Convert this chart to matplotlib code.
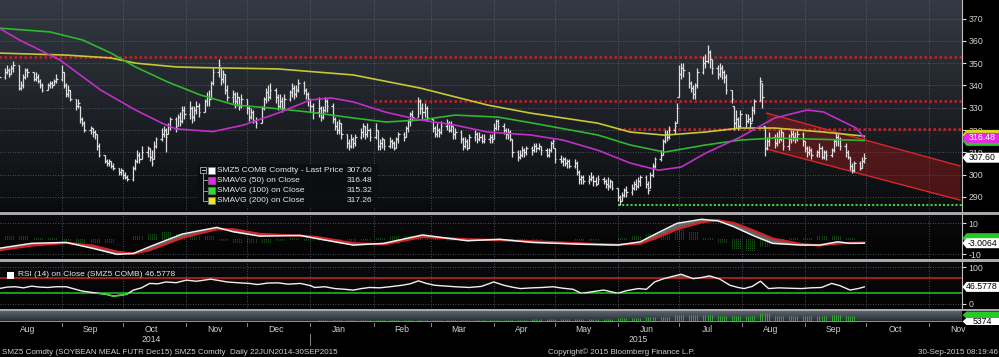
import numpy as np
import pandas as pd
import matplotlib
matplotlib.use("Agg")
import matplotlib.pyplot as plt
import matplotlib.dates as mdates
from matplotlib.patches import Rectangle, Polygon
from matplotlib.colors import LinearSegmentedColormap

plt.rcParams['font.family'] = ['Liberation Sans', 'DejaVu Sans']
plt.rcParams['axes.unicode_minus'] = False

# Daily bars, SMZ5, one value per business day from 1 Aug 2014 to 30 Sep 2015.
close = [
    # Aug 2014
    344, 346, 347, 345, 348, 349, 339, 340, 344, 347, 346, 343, 344, 342, 340, 338, 340, 341, 340, 342, 343,
    # Sep
    346, 340, 336, 338, 334, 331, 332, 325, 323, 320, 321, 319, 318, 313, 309, 306, 305, 306, 304, 303, 301, 302,
    # Oct
    300, 299, 298, 303, 306, 309, 307, 310, 312, 308, 305, 313, 316, 318, 320, 317, 322, 325, 321, 326, 324, 329, 327,
    # Nov
    330, 326, 329, 331, 328, 333, 335, 334, 341, 346, 349, 343, 345, 338, 335, 336, 333, 335, 331, 334,
    # Dec
    330, 326, 328, 324, 323, 330, 334, 337, 335, 338, 335, 331, 333, 330, 334, 337, 339, 336, 338, 341, 338, 336, 334,
    # Jan 2015
    331, 328, 330, 326, 329, 333, 331, 325, 322, 320, 323, 318, 314, 313, 316, 314, 317, 319, 322, 318, 320, 317,
    # Feb
    320, 313, 314, 316, 313, 315, 314, 312, 316, 318, 317, 321, 324, 327, 326, 333, 330, 328, 330, 326,
    # Mar
    321, 318, 320, 319, 322, 323, 320, 322, 318, 319, 316, 313, 315, 312, 317, 318, 316, 317, 315, 316, 317, 315,
    # Apr
    321, 324, 322, 320, 318, 319, 316, 310, 308, 309, 311, 310, 312, 311, 313, 312, 313, 311, 309, 311, 314, 315,
    # May
    307, 306, 307, 305, 306, 304, 305, 301, 298, 299, 297, 298, 299, 297, 296, 298, 297, 296, 295, 297, 294,
    # Jun
    290, 288, 291, 293, 292, 294, 296, 295, 297, 299, 296, 293, 300, 304, 307, 309, 315, 318, 317, 320, 322, 330,
    # Jul
    345, 348, 347, 341, 339, 336, 340, 346, 350, 351, 355, 352, 348, 345, 348, 346, 344, 338, 334, 323, 325, 322, 327,
    # Aug
    324, 325, 323, 329, 333, 342, 335, 312, 315, 317, 314, 317, 316, 319, 313, 316, 318, 317, 316, 318, 315,
    # Sep
    312, 310, 311, 309, 310, 312, 308, 310, 309, 311, 315, 317, 316, 313, 310, 308, 304, 302, 305, 303, 306, 307.6,
]
high = [
    346, 348, 349, 348, 349, 351, 349, 342, 345, 348, 348, 346, 346, 345, 343, 341, 341, 342, 342, 343, 345,
    349, 346, 341, 340, 338, 334, 334, 331, 326, 324, 322, 321, 320, 318, 314, 309, 307, 307, 306, 305, 303, 303,
    302, 301, 300, 304, 307, 311, 310, 313, 313, 312, 311, 315, 317, 321, 322, 321, 323, 326, 326, 327, 328, 331, 331,
    333, 331, 331, 333, 332, 334, 337, 338, 342, 348, 352, 348, 347, 345, 340, 338, 337, 337, 335, 336,
    334, 331, 330, 329, 326, 331, 335, 339, 340, 341, 339, 336, 336, 335, 336, 338, 341, 340, 340, 343, 342, 339, 337,
    334, 332, 335, 331, 331, 335, 334, 332, 326, 324, 325, 323, 318, 316, 318, 317, 318, 321, 323, 322, 323, 321,
    323, 320, 316, 317, 316, 317, 316, 315, 317, 319, 319, 322, 325, 328, 329, 335, 334, 332, 332, 331,
    325, 322, 323, 321, 324, 325, 324, 324, 322, 321, 320, 317, 317, 316, 318, 320, 319, 319, 318, 318, 318, 318,
    323, 325, 325, 323, 321, 321, 320, 316, 311, 311, 313, 312, 313, 313, 314, 314, 314, 313, 312, 312, 315, 316,
    312, 309, 308, 308, 307, 307, 307, 306, 302, 300, 300, 300, 301, 300, 299, 300, 299, 298, 299, 298, 297,
    294, 291, 292, 294, 295, 296, 297, 298, 299, 300, 300, 297, 301, 305, 308, 311, 316, 320, 320, 322, 324, 332,
    349, 350, 350, 346, 342, 340, 341, 348, 353, 354, 358, 356, 352, 349, 350, 349, 347, 345, 338, 331, 329, 326, 329,
    327, 327, 326, 331, 334, 344, 341, 322, 317, 319, 318, 319, 320, 321, 319, 318, 320, 320, 319, 320, 319,
    315, 313, 313, 312, 311, 314, 313, 311, 311, 312, 316, 318.5, 318, 317, 314, 311, 308, 305, 306, 306, 308, 309.5,
]
low = [
    342, 343, 345, 344, 345, 346, 338, 338, 339, 343, 344, 342, 342, 341, 339, 337, 338, 339, 339, 340, 341,
    342, 339, 335, 335, 333, 329, 330, 323, 322, 319, 318, 317, 316, 311, 308, 305, 304, 304, 303, 302, 300, 300,
    298, 298, 297, 297, 302, 305, 305, 307, 308, 306, 304, 307, 312, 315, 317, 310, 318, 320, 319, 322, 322, 323, 325,
    325, 323, 324, 327, 326, 328, 331, 331, 334, 340, 344, 340, 341, 336, 333, 332, 330, 331, 329, 330,
    327, 324, 325, 323, 321, 323, 329, 332, 333, 334, 332, 329, 330, 328, 330, 333, 335, 334, 335, 337, 336, 334, 331,
    328, 325, 326, 324, 325, 328, 328, 323, 320, 318, 318, 316, 312, 311, 312, 312, 313, 316, 317, 316, 317, 315,
    316, 311, 311, 312, 311, 312, 312, 311, 312, 314, 315, 317, 319, 322, 324, 326, 327, 325, 326, 324,
    319, 317, 317, 317, 318, 320, 319, 319, 316, 316, 314, 311, 312, 311, 312, 315, 314, 315, 314, 314, 314, 314,
    316, 320, 320, 318, 316, 316, 315, 308, 306, 307, 308, 308, 309, 309, 310, 310, 311, 309, 308, 308, 310, 312,
    305, 305, 304, 304, 303, 303, 303, 300, 296, 296, 296, 296, 297, 295, 295, 296, 296, 294, 293, 294, 293,
    288, 286.5, 288, 290, 290, 291, 293, 293, 294, 295, 294, 291.5, 294, 299, 303, 306, 309, 314, 315, 316, 318, 323,
    335, 343, 344, 339, 337, 334, 334, 339, 345, 348, 350, 348, 345, 343, 344, 343, 341, 336, 332, 320, 321, 320, 321,
    321, 323, 321, 324, 327, 333, 330, 308.5, 311, 313, 312, 313, 314, 315, 311, 311, 314, 315, 314, 315, 313,
    310, 308, 309, 307, 308, 308, 307, 307, 306.5, 308, 310, 313, 313, 311, 308, 307, 302, 300.6, 301, 302, 303, 305,
]

# Moving averages
sma50_dates = ['2014-08-01', '2014-08-11', '2014-08-31', '2014-09-20', '2014-10-07', '2014-10-20', '2014-10-27',
               '2014-11-14', '2014-11-29', '2014-12-16', '2015-01-01', '2015-01-11', '2015-01-22', '2015-02-07',
               '2015-02-24', '2015-03-13', '2015-03-29', '2015-04-19', '2015-05-05', '2015-05-22', '2015-06-07',
               '2015-06-21', '2015-07-02', '2015-07-14', '2015-07-31', '2015-08-17', '2015-09-02', '2015-09-10',
               '2015-09-18', '2015-09-26', '2015-09-30']
sma50 = [365.7, 360.4, 351.4, 337.9, 329.0, 323.1, 320.5, 319.3, 322.2, 327.6, 333.5, 334.4, 332.6, 328.0,
         324.5, 322.2, 319.1, 317.8, 315.5, 311.0, 305.2, 302.0, 303.4, 309.6, 316.8, 325.4, 329.0, 328.1,
         324.5, 320.9, 316.48]
sma100_dates = ['2014-08-01', '2014-08-26', '2014-09-11', '2014-09-25', '2014-10-07', '2014-10-23', '2014-11-08',
                '2014-11-25', '2014-12-12', '2015-01-01', '2015-01-22', '2015-02-07', '2015-02-24', '2015-03-13',
                '2015-04-03', '2015-04-19', '2015-05-22', '2015-06-07', '2015-06-24', '2015-07-14', '2015-07-31',
                '2015-08-17', '2015-09-30']
sma100 = [365.7, 364.0, 360.4, 354.5, 348.3, 341.5, 335.7, 331.2, 329.9, 328.0, 325.4, 323.6, 324.5, 326.7,
          325.8, 323.3, 317.8, 313.3, 310.1, 313.3, 315.5, 316.4, 315.32]
sma200_dates = ['2014-08-01', '2014-09-03', '2014-09-25', '2014-10-07', '2014-10-27', '2014-11-08', '2014-12-16',
                '2015-01-22', '2015-02-24', '2015-03-29', '2015-04-19', '2015-05-22', '2015-06-07', '2015-06-24',
                '2015-07-14', '2015-07-31', '2015-08-17', '2015-09-10', '2015-09-30']
sma200 = [354.5, 353.6, 352.3, 350.0, 348.3, 348.0, 347.4, 344.7, 338.8, 331.2, 327.6, 323.1, 319.1, 317.7,
          319.1, 320.9, 320.9, 319.1, 317.26]

# Drawn levels and channel
res_levels = [352.7, 333.1, 320.5]
res_starts = ['2014-08-01', '2015-02-01', '2015-06-01']
sup_level = 286.4
sup_start = '2015-06-01'
channel_dates = ['2015-08-13', '2015-11-16']
channel_top = [327.6, 303.9]
channel_bot = [311.5, 288.6]

# MACD panel
macd_dates = ['2014-08-01', '2014-08-17', '2014-09-03', '2014-09-16', '2014-09-28', '2014-10-06', '2014-10-14',
              '2014-10-30', '2014-11-16', '2014-11-24', '2014-12-07', '2014-12-27', '2015-01-04', '2015-01-22',
              '2015-02-06', '2015-02-25', '2015-03-19', '2015-04-04', '2015-04-20', '2015-05-15', '2015-06-01',
              '2015-06-12', '2015-06-20', '2015-06-30', '2015-07-12', '2015-07-20', '2015-07-28', '2015-08-07',
              '2015-08-16', '2015-08-30', '2015-09-08', '2015-09-17', '2015-09-23', '2015-09-30']
macd_line = [-6.3, -3.1, -2.5, -6.3, -10.2, -9.6, -5.3, 2.9, 7.2, 4.4, 1.6, 2.0, 0.0, -4.2, -3.1, 2.3, -1.4,
             -0.5, -2.5, -3.7, -4.2, -2.1, 3.3, 9.8, 12.4, 11.5, 7.6, 1.6, -3.1, -4.2, -4.2, -2.1, -3.1, -3.0064]
macd_signal = [-7.5, -4.5, -2.8, -4.5, -8.5, -9.8, -7.5, 0.5, 6.0, 6.0, 3.0, 1.8, 1.0, -3.0, -3.8, 1.0, -0.5,
               -1.0, -1.8, -3.2, -4.0, -3.2, 0.5, 6.0, 10.5, 11.8, 10.0, 5.0, 0.0, -3.5, -4.5, -3.2, -2.8, -2.6]
# weekly histogram and volume, weeks ending on Fridays from 1 Aug 2014
macd_hist = [1.5, 2, 2, 1, 0.5, -1, -2, -2.5, -2, -0.5, 2, 3.5, 4, 3.5, 2, 1.5, -1, -2.5, -3, -2, -1, 0.5,
             -1, -1.5, -3, -2.5, -1, 0.5, 1.5, 2.5, 2, 0.5, -1, -1.5, -0.5, 0.5, -1, -1.5, -1, 0, -0.5, -1.5,
             -1, -0.5, 0.5, 1.5, 3.5, 5, 6, 4, 1, -3, -6, -7.5, -5, -2, 0.5, 1, 1.5, 2, 0.5]
volume = [150, 200, 180, 220, 200, 250, 300, 280, 300, 350, 320, 400, 380, 420, 400, 450, 420, 380, 450, 500,
          480, 350, 450, 600, 700, 650, 800, 900, 850, 1000, 1100, 1000, 1200, 1300, 1250, 1400, 1500, 1600,
          1800, 2000, 2100, 2300, 2500, 2800, 3200, 3500, 4200, 5000, 7000, 6500, 6800, 6200, 6000, 5800, 9000,
          6200, 5800, 5500, 6000, 6500, 5374]

# RSI panel
rsi_dates = ['2014-08-01', '2014-08-05', '2014-08-09', '2014-08-13', '2014-08-17', '2014-08-21', '2014-08-25',
             '2014-08-29', '2014-09-03', '2014-09-07', '2014-09-11', '2014-09-15', '2014-09-19', '2014-09-23',
             '2014-09-26', '2014-09-30', '2014-10-03', '2014-10-06', '2014-10-10', '2014-10-14', '2014-10-18',
             '2014-10-22', '2014-10-27', '2014-11-01', '2014-11-06', '2014-11-13', '2014-11-17', '2014-11-21',
             '2014-11-26', '2014-12-02', '2014-12-06', '2014-12-11', '2014-12-16', '2014-12-21', '2014-12-27',
             '2015-01-01', '2015-01-03', '2015-01-08', '2015-01-13', '2015-01-18', '2015-01-22', '2015-01-26',
             '2015-01-30', '2015-02-04', '2015-02-09', '2015-02-15', '2015-02-19', '2015-02-23', '2015-02-27',
             '2015-03-03', '2015-03-08', '2015-03-13', '2015-03-20', '2015-03-26', '2015-04-01', '2015-04-06',
             '2015-04-10', '2015-04-14', '2015-04-20', '2015-04-25', '2015-04-30', '2015-05-05', '2015-05-10',
             '2015-05-14', '2015-05-19', '2015-05-25', '2015-06-01', '2015-06-05', '2015-06-11', '2015-06-15',
             '2015-06-19', '2015-06-23', '2015-06-27', '2015-07-02', '2015-07-05', '2015-07-08', '2015-07-12',
             '2015-07-16', '2015-07-21', '2015-07-26', '2015-07-30', '2015-08-02', '2015-08-06', '2015-08-10',
             '2015-08-14', '2015-08-19', '2015-08-24', '2015-08-30', '2015-09-04', '2015-09-09', '2015-09-14',
             '2015-09-18', '2015-09-23', '2015-09-27', '2015-09-30']
rsi = [42, 46, 47, 44, 48.6, 46, 45, 47, 47, 41, 35, 32, 29, 26, 21.6, 24, 27, 37.8, 44, 56, 55, 60, 58,
       65, 62, 67.6, 64, 60, 58, 56, 53, 57, 57.6, 54, 56, 50, 45, 47, 42, 40, 37.8, 42, 45, 44, 47, 51, 55,
       63, 56, 51, 49, 47, 45, 48, 60, 51, 46, 42, 44, 45, 47, 43, 40, 29, 33, 38, 29, 36, 42, 40, 60, 68, 74,
       81, 75, 69, 72, 76.6, 68, 51, 45, 42, 48, 62, 42, 44, 43, 42, 44, 45, 56, 50, 38, 42, 46.58]

main_ticks = [290, 300, 310, 320, 330, 340, 350, 360, 370]
month_labels = ['Aug', 'Sep', 'Oct', 'Nov', 'Dec', 'Jan', 'Feb', 'Mar', 'Apr', 'May', 'Jun', 'Jul',
                'Aug', 'Sep', 'Oct', 'Nov']
year_labels = ['2014', '2015']
year_label_dates = ['2014-10-15', '2015-06-11']

W, H = 999, 357


def num(dates):
    return mdates.date2num(pd.to_datetime(dates).to_pydatetime())


def rect(y0, y1, x0=0, x1=962):
    # pixel box (y from top) -> figure fraction
    return [x0 / W, 1 - y1 / H, (x1 - x0) / W, (y1 - y0) / H]


def fx(x):
    return x / W


def fy(y):
    return 1 - y / H


def shade(ax, top, bottom):
    cmap = LinearSegmentedColormap.from_list('bg', [bottom, top])
    ax.imshow(np.linspace(0, 1, 100).reshape(-1, 1), cmap=cmap, aspect='auto', origin='lower',
              extent=(0, 1, 0, 1), transform=ax.transAxes, zorder=0, interpolation='bilinear')


fig = plt.figure(figsize=(9.99, 3.57), dpi=100, facecolor='black')
ax = fig.add_axes(rect(0, 211))
ax_macd = fig.add_axes(rect(215, 259))
ax_rsi = fig.add_axes(rect(262, 308.5))
ax_vol = fig.add_axes(rect(311, 321))

shade(ax, '#343a43', '#0a0b0e')
shade(ax_macd, '#0b0b0d', '#020203')
shade(ax_rsi, '#0b0b0d', '#020203')
shade(ax_vol, '#5b6570', '#262c33')

x_left = num(['2014-08-01'])[0] + 0.5
x_right = num(['2015-11-17'])[0]
month_starts = num(pd.date_range('2014-08-01', '2015-11-01', freq='MS'))

grid_c = '#5f656d'
for a in (ax, ax_macd, ax_rsi):
    for m in month_starts[1:]:
        a.axvline(m, color=grid_c, lw=0.6, ls=(0, (1, 2)), zorder=1)
for v in main_ticks:
    ax.axhline(v, color=grid_c, lw=0.6, ls=(0, (1, 2)), zorder=1)

# price bars
days = num(pd.bdate_range('2014-08-01', '2015-09-30')[:len(close)])
c = np.array(close, float)
hi = np.array(high, float)
lo = np.array(low, float)
op = np.clip(np.r_[c[0], c[:-1]], lo, hi)
bar_c = '#dedede'
ax.vlines(days, lo, hi, color=bar_c, lw=0.9, zorder=4)
ax.hlines(op, days - 0.75, days, color=bar_c, lw=0.9, zorder=4)
ax.hlines(c, days, days + 0.75, color=bar_c, lw=0.9, zorder=4)

# channel
cd = num(channel_dates)
ax.fill_between(cd, channel_bot, channel_top, color='#a01c1c', alpha=0.42, lw=0, zorder=2)
ax.plot(cd, channel_top, color='#d8262a', lw=1.0, zorder=3)
ax.plot(cd, channel_bot, color='#d8262a', lw=1.0, zorder=3)

# levels
for lv, st in zip(res_levels, res_starts):
    ax.hlines(lv, num([st])[0], x_right, color='#c8202a', lw=1.8, linestyles=(0, (1, 1)), zorder=3)
ax.hlines(sup_level, num([sup_start])[0], x_right, color='#3cd23c', lw=1.5, linestyles=(0, (1, 1)), zorder=3)

# moving averages
ax.plot(num(sma200_dates), sma200, color='#c8c834', lw=1.2, zorder=5)
ax.plot(num(sma100_dates), sma100, color='#2eb82e', lw=1.2, zorder=5)
ax.plot(num(sma50_dates), sma50, color='#c030c8', lw=1.2, zorder=5)

ax.set_ylim(283.7, 378.3)
ax.set_yticks(main_ticks)

# MACD
md = num(macd_dates)
wk = num(pd.date_range('2014-08-01', periods=len(macd_hist), freq='W-FRI'))
for k in range(5):
    ax_macd.vlines(wk - k, 0, macd_hist, color='#2aa82a', lw=0.6, linestyles=(0, (1, 1.5)), zorder=2)
ax_macd.fill_between(md, macd_line, macd_signal, color='#8a8a8a', alpha=0.7, lw=0, zorder=3)
ax_macd.plot(md, macd_signal, color='#d42424', lw=1.6, zorder=4)
ax_macd.plot(md, macd_line, color='#f2f2f2', lw=1.1, zorder=5)
for v in (10, -10):
    ax_macd.axhline(v, color=grid_c, lw=0.6, ls=(0, (1, 2)), zorder=1)
ax_macd.set_ylim(-13.2, 15.2)
ax_macd.set_yticks([-10, 10])

# RSI
rd = num(rsi_dates)
r = np.array(rsi, float)
for v in (0, 100):
    ax_rsi.axhline(v, color=grid_c, lw=0.6, ls=(0, (1, 2)), zorder=1)
ax_rsi.axhline(70, color='#c42020', lw=1.2, zorder=2)
ax_rsi.axhline(30, color='#22b422', lw=1.2, zorder=2)
ax_rsi.fill_between(rd, r, 70, where=r > 70, interpolate=True, color='#9a4a4a', alpha=0.7, lw=0, zorder=3)
ax_rsi.plot(rd, r, color='#f0f0f0', lw=1.0, zorder=4)
g, = ax_rsi.plot(rd, r, color='#3ccc3c', lw=1.1, zorder=5)
g.set_clip_path(Rectangle((x_left, -20), x_right - x_left, 50, transform=ax_rsi.transData))
ax_rsi.set_ylim(-12.3, 114.4)
ax_rsi.set_yticks([0, 100])

# volume
for k in range(5):
    ax_vol.vlines(wk - k, 0, volume, color='#34b834', lw=0.6, zorder=2)
ax_vol.set_ylim(0, 11500)

for a in (ax, ax_macd, ax_rsi, ax_vol):
    a.set_xlim(x_left, x_right)
    a.tick_params(axis='x', bottom=False, labelbottom=False)
    for s in ('top', 'left', 'bottom'):
        a.spines[s].set_visible(False)
for a in (ax, ax_macd, ax_rsi):
    a.yaxis.tick_right()
    a.tick_params(axis='y', colors='#e0e0e0', labelcolor='#cfcfcf', length=3, width=0.8,
                  pad=1.5, labelsize=6.3)
    a.spines['right'].set_color('#bfbfbf')
    a.spines['right'].set_linewidth(0.8)
ax_vol.set_yticks([])
ax_vol.spines['right'].set_visible(False)

# panel separators
for y0, y1 in ((211.5, 214.5), (259, 262), (308.5, 311)):
    fig.add_artist(Rectangle((0, fy(y1)), 1, (y1 - y0) / H, transform=fig.transFigure,
                             facecolor='#a8a8a8', edgecolor='none', zorder=6))
fig.add_artist(Rectangle((0, fy(322)), fx(962), 1.2 / H, transform=fig.transFigure,
                         facecolor='#38c038', edgecolor='none', zorder=6))


def ypix(a, v):
    return H - a.transData.transform((x_left, v))[1]


tag_z = [10]


def tag(y, text, face, tcolor, h=10):
    x0, x1 = 962.5, 999
    z = tag_z[0]
    tag_z[0] += 1
    pts = [(x0, y), (x0 + 4, y - h / 2), (x1, y - h / 2), (x1, y + h / 2), (x0 + 4, y + h / 2)]
    fig.add_artist(Polygon([(fx(px), fy(py)) for px, py in pts], closed=True, transform=fig.transFigure,
                           facecolor=face, edgecolor='none', zorder=z))
    if text:
        fig.text(fx(982), fy(y), text, color=tcolor, fontsize=6.3, ha='center', va='center', zorder=z + 0.5)


# the 200 and 100 day tags sit under the 50 day tag, only their edges show
ym = ypix(ax, 316.48)
tag(ym - 3, '', '#d8d820', '#000000')
tag(ym + 3, '', '#28c828', '#000000')
tag(ym, '316.48', '#e628e6', '#ffffff')
tag(ypix(ax, 307.6), '307.60', '#ffffff', '#000000')
yq = ypix(ax_macd, -3.0064)
tag(yq - 5, '', '#28c828', '#000000')
tag(yq, '-3.0064', '#ffffff', '#000000')
tag(ypix(ax_rsi, 46.5778), '46.5778', '#ffffff', '#000000')
tag(315, '', '#28c828', '#000000', h=7)
tag(321.5, '5374', '#ffffff', '#000000', h=7)

# main legend
fig.add_artist(Rectangle((fx(197), fy(207)), 181 / W, 43 / H, transform=fig.transFigure,
                         facecolor='#0b0d10', alpha=0.85, edgecolor='none', zorder=8))
legend_rows = [('SMZ5 COMB Comdty - Last Price', '307.60', '#ffffff'),
               ('SMAVG (50) on Close', '316.48', '#e628e6'),
               ('SMAVG (100) on Close', '315.32', '#28e028'),
               ('SMAVG (200) on Close', '317.26', '#e8e828')]
row_y = [170, 180.3, 190.7, 200.7]
fig.add_artist(Rectangle((fx(200), fy(173)), 6 / W, 6 / H, transform=fig.transFigure,
                         facecolor='none', edgecolor='#9a9a9a', lw=0.7, zorder=9))
fig.add_artist(plt.Line2D([fx(201.5), fx(204.5)], [fy(170), fy(170)], color='#c0c0c0', lw=0.7, zorder=9))
fig.add_artist(plt.Line2D([fx(203), fx(203)], [fy(173), fy(200.7)], color='#9a9a9a', lw=0.7, zorder=9))
for (lab, val, col), yy in zip(legend_rows, row_y):
    if yy > 171:
        fig.add_artist(plt.Line2D([fx(203), fx(207)], [fy(yy), fy(yy)], color='#9a9a9a', lw=0.7, zorder=9))
    fig.add_artist(Rectangle((fx(207.5), fy(yy + 3.5)), 7 / W, 7 / H, transform=fig.transFigure,
                             facecolor=col, edgecolor='#808080', lw=0.4, zorder=9))
    fig.text(fx(217), fy(yy), lab, color='#e6e6e6', fontsize=6.0, ha='left', va='center', zorder=9)
    fig.text(fx(372), fy(yy), val, color='#e6e6e6', fontsize=6.0, ha='right', va='center', zorder=9)

# RSI legend
fig.add_artist(Rectangle((fx(7), fy(278.5)), 7 / W, 7 / H, transform=fig.transFigure,
                         facecolor='#ffffff', edgecolor='none', zorder=9))
fig.text(fx(18), fy(275), 'RSI (14) on Close (SMZ5 COMB) 46.5778', color='#e6e6e6', fontsize=6.0,
         ha='left', va='center', zorder=9)

# x axis labels
mids = num(pd.date_range('2014-08-01', '2015-11-01', freq='MS') + pd.Timedelta(days=14))
for m, lab in zip(mids, month_labels):
    xp = ax.transData.transform((m, 300))[0]
    fig.text(fx(xp), fy(330), lab, color='#d0d0d0', fontsize=6.2, ha='center', va='center')
for d, lab in zip(num(year_label_dates), year_labels):
    xp = ax.transData.transform((d, 300))[0]
    fig.text(fx(xp), fy(340), lab, color='#d0d0d0', fontsize=6.2, ha='center', va='center')
for m in month_starts[1:]:
    xp = ax.transData.transform((m, 300))[0]
    fig.add_artist(plt.Line2D([fx(xp), fx(xp)], [fy(322.5), fy(326)], color='#8a8a8a', lw=0.7))
xj = ax.transData.transform((num(['2015-01-01'])[0], 300))[0]
fig.add_artist(plt.Line2D([fx(xj), fx(xj)], [fy(334), fy(345)], color='#8a8a8a', lw=0.7))

# footer
fig.text(fx(2), fy(352), 'SMZ5 Comdty (SOYBEAN MEAL FUTR Dec15) SMZ5 Comdty  Daily 22JUN2014-30SEP2015',
         color='#cfcfcf', fontsize=5.8, ha='left', va='center')
fig.text(fx(622), fy(352), 'Copyright\u00a9 2015 Bloomberg Finance L.P.', color='#cfcfcf', fontsize=5.8,
         ha='center', va='center')
fig.text(fx(998), fy(352), '30-Sep-2015 08:19:46', color='#cfcfcf', fontsize=5.8, ha='right', va='center')

fig.savefig('out.png', dpi=100, facecolor='black')
